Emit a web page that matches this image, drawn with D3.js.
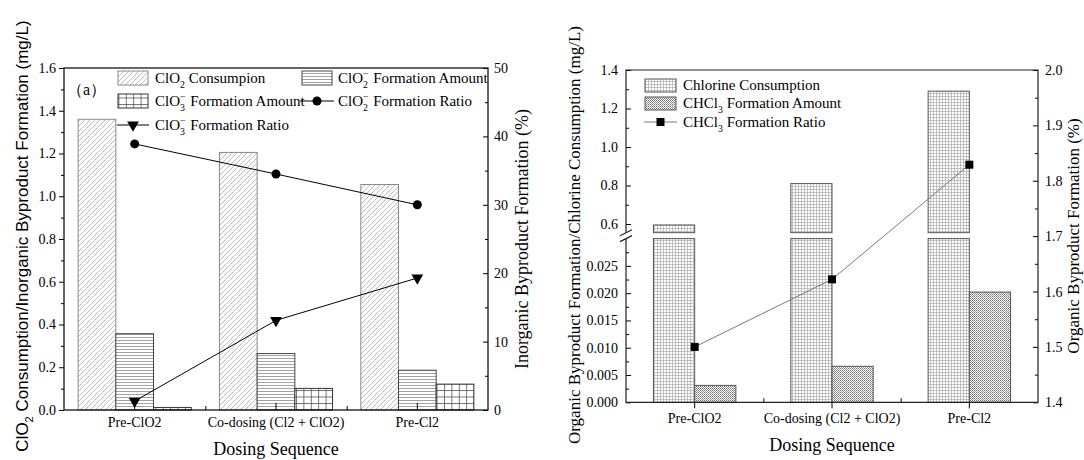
<!DOCTYPE html>
<html lang="en">
<head>
<meta charset="UTF-8">
<title>Dosing Sequence Byproducts</title>
<script src="https://d3js.org/d3.v7.min.js"></script>
<style>
  body { margin: 0; background: #fff; }
  svg { display: block; }
  text { font-family: "Liberation Serif", "Times New Roman", serif; fill: #000; }
</style>
</head>
<body>
<svg width="1084" height="460"></svg>
<script>
// data
var categories = ["Pre-ClO2", "Co-dosing (Cl2 + ClO2)", "Pre-Cl2"];
var clo2Consumption = [1.36, 1.205, 1.055];
var clo2mAmount = [0.357, 0.264, 0.186];
var clo3mAmount = [0.012, 0.101, 0.121];
var clo2mRatio = [38.9, 34.5, 30.0];
var clo3mRatio = [1.3, 13.1, 19.3];
var chlorineConsumption = [0.595, 0.81, 1.29];
var chcl3Amount = [0.0031, 0.0066, 0.0202];
var chcl3Ratio = [1.50, 1.622, 1.829];

var leftTicks = [0, 0.2, 0.4, 0.6, 0.8, 1.0, 1.2, 1.4, 1.6];
var leftMinor = [0.1, 0.3, 0.5, 0.7, 0.9, 1.1, 1.3, 1.5];
var pctTicks = [0, 10, 20, 30, 40, 50];
var pctMinor = [5, 15, 25, 35, 45];
var upperTicks = [0.6, 0.8, 1.0, 1.2, 1.4];
var upperMinor = [0.7, 0.9, 1.1, 1.3];
var lowerTicks = [0, 0.005, 0.01, 0.015, 0.02, 0.025];
var lowerMinor = [0.0025, 0.0075, 0.0125, 0.0175, 0.0225, 0.0275];
var orgPctTicks = [1.4, 1.5, 1.6, 1.7, 1.8, 1.9, 2.0];
var orgPctMinor = [1.45, 1.55, 1.65, 1.75, 1.85, 1.95];

var TICK_FS = 14;

var svg = d3.select("svg");
var defs = svg.append("defs");

function pattern(id, w, h, draw) {
    var p = defs.append("pattern").attr("id", id)
        .attr("patternUnits", "userSpaceOnUse")
        .attr("width", w).attr("height", h);
    p.append("rect").attr("width", w).attr("height", h).attr("fill", "#fff");
    draw(p);
}
pattern("diag", 5, 5, function(p) {
    p.append("path").attr("d", "M-1,6 L6,-1 M-1,1 L1,-1 M4,6 L6,4")
        .attr("stroke", "#a0a0a0").attr("stroke-width", 0.7);
});
pattern("horiz", 4, 3, function(p) {
    p.append("path").attr("d", "M0,1.5 H4").attr("stroke", "#8a8a8a").attr("stroke-width", 0.8);
});
pattern("grid", 7.4, 6.5, function(p) {
    p.append("path").attr("d", "M0,0.5 H7.4 M0.5,0 V6.5").attr("stroke", "#555").attr("stroke-width", 0.8);
});
pattern("fine", 3, 3, function(p) {
    p.append("path").attr("d", "M0,0.5 H3 M0.5,0 V3").attr("stroke", "#b5b5b5").attr("stroke-width", 0.8);
});
pattern("dots", 2, 2, function(p) {
    p.append("rect").attr("x", 0).attr("y", 0).attr("width", 1).attr("height", 1).attr("fill", "#6e6e6e");
    p.append("rect").attr("x", 1).attr("y", 1).attr("width", 1).attr("height", 1).attr("fill", "#9a9a9a");
});

// text with sub/superscripts
function rich(sel, parts, fs) {
    var shift = 0;
    parts.forEach(function(p) {
        var t = sel.append("tspan").text(p.t);
        var target = p.sub ? fs * 0.3 : p.sup ? -fs * 0.4 : 0;
        t.attr("dy", target - shift);
        shift = target;
        if (p.sub || p.sup) t.attr("font-size", fs * 0.65);
        if (p.dx) t.attr("dx", p.dx);
    });
    return sel;
}

function styleAxis(g) {
    g.attr("font-family", null).attr("font-size", TICK_FS);
    g.select(".domain").remove();
    g.selectAll("line").attr("stroke", "#000");
    g.selectAll("text").attr("fill", "#000");
}

// ---------------- left panel ----------------
var L = { x0: 64, x1: 488, y0: 68, y1: 410 };
var xL = d3.scaleBand().domain(categories).range([L.x0, L.x1]);
var xLb = d3.scaleLinear().domain([0, 3]).range([L.x0, L.x1]);
var yL = d3.scaleLinear().domain([0, 1.6]).range([L.y1, L.y0]);
var yLR = d3.scaleLinear().domain([0, 50]).range([L.y1, L.y0]);
var bwL = xL.bandwidth() * 0.8 / 3;

var seriesL = [
    { vals: clo2Consumption, fill: "url(#diag)", stroke: "#8a8a8a" },
    { vals: clo2mAmount, fill: "url(#horiz)", stroke: "#444" },
    { vals: clo3mAmount, fill: "url(#grid)", stroke: "#333" }
];
seriesL.forEach(function(s, si) {
    svg.append("g").selectAll("rect").data(s.vals).enter().append("rect")
        .attr("x", function(d, i) { return xL(categories[i]) + xL.bandwidth() * 0.1 + si * bwL; })
        .attr("y", function(d) { return yL(d); })
        .attr("width", bwL)
        .attr("height", function(d) { return yL(0) - yL(d); })
        .attr("fill", s.fill).attr("stroke", s.stroke).attr("stroke-width", 1);
});

var cxL = function(d, i) { return xL(categories[i]) + xL.bandwidth() / 2; };
var lineL = d3.line().x(function(d, i) { return cxL(d, i); }).y(function(d) { return yLR(d); });
svg.append("path").attr("d", lineL(clo2mRatio)).attr("fill", "none").attr("stroke", "#000").attr("stroke-width", 1);
svg.append("path").attr("d", lineL(clo3mRatio)).attr("fill", "none").attr("stroke", "#000").attr("stroke-width", 1);
svg.append("g").selectAll("circle").data(clo2mRatio).enter().append("circle")
    .attr("cx", cxL).attr("cy", function(d) { return yLR(d); }).attr("r", 4.5).attr("fill", "#000");
var tri = d3.symbol().type(d3.symbolTriangle).size(60);
svg.append("g").selectAll("path").data(clo3mRatio).enter().append("path")
    .attr("d", tri)
    .attr("transform", function(d, i) { return "translate(" + cxL(d, i) + "," + yLR(d) + ") rotate(180)"; })
    .attr("fill", "#000");

// axes
styleAxis(svg.append("g").attr("transform", "translate(" + L.x0 + ",0)")
    .call(d3.axisLeft(yL).tickValues(leftTicks).tickFormat(d3.format(".1f")).tickSize(5).tickPadding(3)));
styleAxis(svg.append("g").attr("transform", "translate(" + L.x0 + ",0)")
    .call(d3.axisLeft(yL).tickValues(leftMinor).tickFormat("").tickSize(3)));
styleAxis(svg.append("g").attr("transform", "translate(" + L.x1 + ",0)")
    .call(d3.axisRight(yLR).tickValues(pctTicks).tickSize(-5).tickPadding(6)));
styleAxis(svg.append("g").attr("transform", "translate(" + L.x1 + ",0)")
    .call(d3.axisRight(yLR).tickValues(pctMinor).tickFormat("").tickSize(-3)));
styleAxis(svg.append("g").attr("transform", "translate(0," + L.y1 + ")")
    .call(d3.axisBottom(xL).tickSize(-7).tickPadding(7)));
styleAxis(svg.append("g").attr("transform", "translate(0," + L.y1 + ")")
    .call(d3.axisBottom(xLb).tickValues([1, 2]).tickFormat("").tickSize(-4)));
svg.append("rect").attr("x", L.x0).attr("y", L.y0).attr("width", L.x1 - L.x0).attr("height", L.y1 - L.y0)
    .attr("fill", "none").attr("stroke", "#000").attr("stroke-width", 1.2);

// legend
var lg = svg.append("g").attr("font-size", 15);
function patch(x, y, fill, stroke) {
    lg.append("rect").attr("x", x).attr("y", y - 7).attr("width", 30).attr("height", 14)
        .attr("fill", fill).attr("stroke", stroke);
}
var ion2 = function(rest) { return [{ t: "ClO" }, { t: "2", sub: 1 }, { t: "−", sup: 1, dx: -5 }, { t: rest, dx: 1 }]; };
var ion3 = function(rest) { return [{ t: "ClO" }, { t: "3", sub: 1 }, { t: "−", sup: 1, dx: -5 }, { t: rest, dx: 1 }]; };
patch(118, 78, "url(#diag)", "#8a8a8a");
rich(lg.append("text").attr("x", 155).attr("y", 83), [{ t: "ClO" }, { t: "2", sub: 1 }, { t: " Consumpion" }], 15);
patch(302, 78, "url(#horiz)", "#444");
rich(lg.append("text").attr("x", 338).attr("y", 83), ion2(" Formation Amount"), 15);
patch(118, 101, "url(#grid)", "#333");
rich(lg.append("text").attr("x", 155).attr("y", 106), ion3(" Formation Amount"), 15);
lg.append("line").attr("x1", 300).attr("x2", 334).attr("y1", 101).attr("y2", 101).attr("stroke", "#000");
lg.append("circle").attr("cx", 317).attr("cy", 101).attr("r", 4.5).attr("fill", "#000");
rich(lg.append("text").attr("x", 338).attr("y", 106), ion2(" Formation Ratio"), 15);
lg.append("line").attr("x1", 117).attr("x2", 149).attr("y1", 125).attr("y2", 125).attr("stroke", "#000");
lg.append("path").attr("d", tri).attr("transform", "translate(133,125) rotate(180)").attr("fill", "#000");
rich(lg.append("text").attr("x", 155).attr("y", 130), ion3(" Formation Ratio"), 15);

svg.append("text").attr("x", 67).attr("y", 95).attr("font-size", 16).text("（a）");

// titles
rich(svg.append("text").attr("transform", "translate(28,236) rotate(-90)").attr("text-anchor", "middle")
    .style("font-family", '"Liberation Sans", Arial, sans-serif').attr("font-size", 17),
    [{ t: "ClO" }, { t: "2", sub: 1 }, { t: " Consumption/Inorganic Byproduct Formation (mg/L)" }], 17);
svg.append("text").attr("transform", "translate(528,239) rotate(-90)").attr("text-anchor", "middle")
    .attr("font-size", 18).text("Inorganic Byproduct Formation (%)");
svg.append("text").attr("x", 276).attr("y", 455).attr("text-anchor", "middle").attr("font-size", 18).text("Dosing Sequence");

// ---------------- right panel ----------------
var R = { x0: 626, x1: 1038, y0: 70, y1: 402.3 };
var xR = d3.scaleBand().domain(categories).range([R.x0, R.x1]);
var xRb = d3.scaleLinear().domain([0, 3]).range([R.x0, R.x1]);
var yUp = d3.scaleLinear().domain([0.6, 1.4]).range([224, R.y0]);
var upBottomVal = 0.555;
var yLow = d3.scaleLinear().domain([0, 0.03]).range([R.y1, 238.6]);
var yRR = d3.scaleLinear().domain([1.4, 2.0]).range([R.y1, R.y0]);
var bwR = xR.bandwidth() * 0.3;

var gc = svg.append("g");
chlorineConsumption.forEach(function(v, i) {
    var x = xR(categories[i]) + xR.bandwidth() * 0.2;
    gc.append("rect").attr("x", x).attr("y", yLow(0.03)).attr("width", bwR)
        .attr("height", yLow(0) - yLow(0.03))
        .attr("fill", "url(#fine)").attr("stroke", "#555");
    gc.append("rect").attr("x", x).attr("y", yUp(v)).attr("width", bwR)
        .attr("height", yUp(upBottomVal) - yUp(v))
        .attr("fill", "url(#fine)").attr("stroke", "#555");
});
svg.append("g").selectAll("rect").data(chcl3Amount).enter().append("rect")
    .attr("x", function(d, i) { return xR(categories[i]) + xR.bandwidth() * 0.5; })
    .attr("y", function(d) { return yLow(d); })
    .attr("width", bwR)
    .attr("height", function(d) { return yLow(0) - yLow(d); })
    .attr("fill", "url(#dots)").attr("stroke", "#555");

var cxR = function(d, i) { return xR(categories[i]) + xR.bandwidth() / 2; };
var lineR = d3.line().x(function(d, i) { return cxR(d, i); }).y(function(d) { return yRR(d); });
svg.append("path").attr("d", lineR(chcl3Ratio)).attr("fill", "none").attr("stroke", "#7a7a7a").attr("stroke-width", 1);
svg.append("g").selectAll("rect").data(chcl3Ratio).enter().append("rect")
    .attr("x", function(d, i) { return cxR(d, i) - 4; })
    .attr("y", function(d) { return yRR(d) - 4; })
    .attr("width", 8).attr("height", 8).attr("fill", "#000");

// axes
styleAxis(svg.append("g").attr("transform", "translate(" + R.x0 + ",0)")
    .call(d3.axisLeft(yUp).tickValues(upperTicks).tickFormat(d3.format(".1f")).tickSize(-5).tickPadding(8)));
styleAxis(svg.append("g").attr("transform", "translate(" + R.x0 + ",0)")
    .call(d3.axisLeft(yUp).tickValues(upperMinor).tickFormat("").tickSize(-3)));
styleAxis(svg.append("g").attr("transform", "translate(" + R.x0 + ",0)")
    .call(d3.axisLeft(yLow).tickValues(lowerTicks).tickFormat(d3.format(".3f")).tickSize(-5).tickPadding(8)));
styleAxis(svg.append("g").attr("transform", "translate(" + R.x0 + ",0)")
    .call(d3.axisLeft(yLow).tickValues(lowerMinor).tickFormat("").tickSize(-3)));
styleAxis(svg.append("g").attr("transform", "translate(" + R.x1 + ",0)")
    .call(d3.axisRight(yRR).tickValues(orgPctTicks).tickFormat(d3.format(".1f")).tickSize(-5).tickPadding(7)));
styleAxis(svg.append("g").attr("transform", "translate(" + R.x1 + ",0)")
    .call(d3.axisRight(yRR).tickValues(orgPctMinor).tickFormat("").tickSize(-3)));
styleAxis(svg.append("g").attr("transform", "translate(0," + R.y1 + ")")
    .call(d3.axisBottom(xR).tickSize(6).tickPadding(5)));
styleAxis(svg.append("g").attr("transform", "translate(0," + R.y1 + ")")
    .call(d3.axisBottom(xRb).tickValues([1, 2]).tickFormat("").tickSize(-4)));

var frame = svg.append("g").attr("stroke", "#222").attr("stroke-width", 1.2).attr("fill", "none");
frame.append("path").attr("d",
    "M" + R.x0 + "," + yUp(upBottomVal) + " V" + R.y0 + " H" + R.x1 + " V" + R.y1 + " H" + R.x0 + " V" + yLow(0.03));
frame.append("path").attr("d",
    "M" + (R.x0 - 6) + "," + (yUp(upBottomVal) + 3) + " L" + (R.x0 + 6) + "," + (yUp(upBottomVal) - 3) +
    " M" + (R.x0 - 6) + "," + (yLow(0.03) + 3) + " L" + (R.x0 + 6) + "," + (yLow(0.03) - 3));

// legend
var rg = svg.append("g").attr("font-size", 15);
rg.append("rect").attr("x", 645).attr("y", 79).attr("width", 31).attr("height", 13).attr("fill", "url(#fine)").attr("stroke", "#555");
rg.append("text").attr("x", 683).attr("y", 90).text("Chlorine Consumption");
rg.append("rect").attr("x", 645).attr("y", 97).attr("width", 31).attr("height", 13).attr("fill", "url(#dots)").attr("stroke", "#555");
rich(rg.append("text").attr("x", 683).attr("y", 108), [{ t: "CHCl" }, { t: "3", sub: 1 }, { t: " Formation Amount" }], 15);
rg.append("line").attr("x1", 644).attr("x2", 677).attr("y1", 122).attr("y2", 122).attr("stroke", "#7a7a7a");
rg.append("rect").attr("x", 656.5).attr("y", 118).attr("width", 8).attr("height", 8).attr("fill", "#000");
rich(rg.append("text").attr("x", 683).attr("y", 127), [{ t: "CHCl" }, { t: "3", sub: 1 }, { t: " Formation Ratio" }], 15);

// titles
svg.append("text").attr("transform", "translate(580,235) rotate(-90)").attr("text-anchor", "middle")
    .attr("font-size", 17).text("Organic Byproduct Formation/Chlorine Consumption (mg/L)");
svg.append("text").attr("transform", "translate(1079,236) rotate(-90)").attr("text-anchor", "middle")
    .attr("font-size", 17).text("Organic Byproduct Formation (%)");
svg.append("text").attr("x", 832).attr("y", 451).attr("text-anchor", "middle").attr("font-size", 18).text("Dosing Sequence");
</script>
</body>
</html>
